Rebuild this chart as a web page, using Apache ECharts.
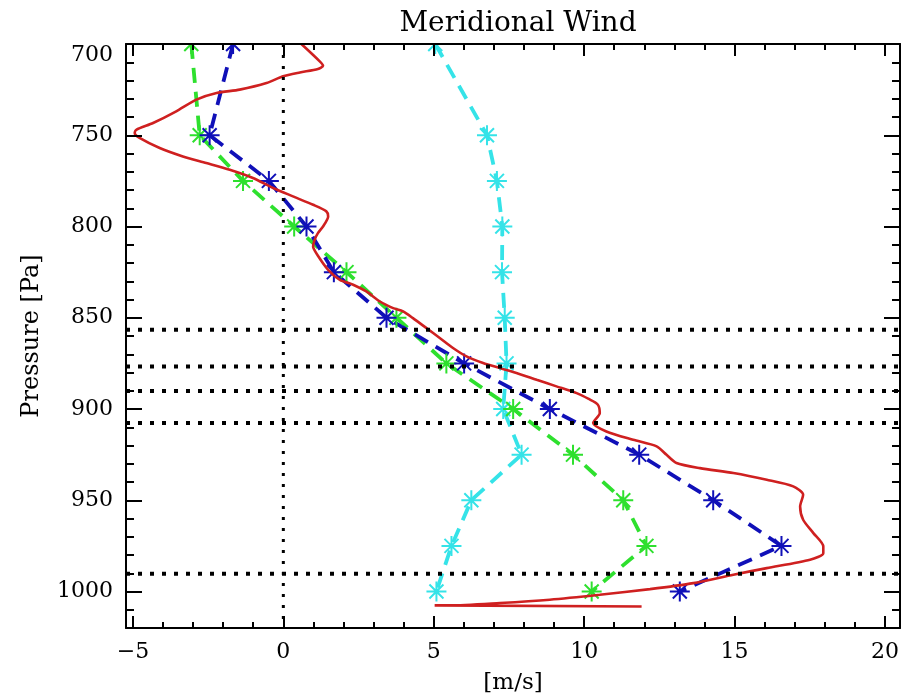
<!DOCTYPE html>
<html>
<head>
<meta charset="utf-8">
<script src="https://cdn.jsdelivr.net/npm/echarts@6/dist/echarts.min.js"></script>
<style>html,body{margin:0;padding:0;background:#fff}#c{width:912px;height:700px}</style>
</head>
<body>
<div id="c"></div>
<script>
// ---- data ----
const levelPressure = [700, 750, 775, 800, 825, 850, 875, 900, 925, 950, 975, 1000];
const blueWind  = [-1.67, -2.45, -0.48, 0.77, 1.68, 3.43, 6.01, 8.86, 11.83, 14.29, 16.56, 13.18];
const greenWind = [-3.06, -2.78, -1.34, 0.36, 2.10, 3.76, 5.42, 7.64, 9.63, 11.30, 12.07, 10.25];
const cyanWind  = [5.05, 6.77, 7.10, 7.28, 7.27, 7.36, 7.42, 7.31, 7.92, 6.25, 5.59, 5.09];

const redWind = [0.60, 1.21, 1.32, 1.15, 0.55, -0.01, -0.56, -1.45, -2.22, -2.89, -3.56, -4.33, -4.89, -4.94, -4.78,
  -4.11, -3.34, -2.56, -1.78, -1.01, -0.34, 0.32, 0.99, 1.43, 1.49, 1.32, 1.15, 1.04, 0.99, 1.15, 1.49, 1.88, 2.32,
  2.76, 3.21, 3.65, 3.98, 4.31, 4.76, 5.20, 5.64, 6.09, 6.64, 7.20, 7.75, 8.42, 9.08, 9.75, 10.15, 10.45, 10.52,
  10.30, 10.74, 11.63, 12.41, 12.74, 13.07, 13.85, 14.96, 16.07, 16.95, 17.28, 17.18, 17.28, 17.62, 17.95, 17.95,
  17.51, 16.07, 14.96, 13.63, 12.19, 10.52, 8.86, 7.20, 5.53, 5.03, 11.91];
const redPressure = [700, 709.5, 711.9, 713.7, 715.6, 717.7, 721.4, 725, 726.9, 730.5, 736.9, 743.3, 747, 748.8, 751.5,
  757, 761.6, 765.2, 768.9, 773.4, 778.9, 783.5, 788.1, 791.7, 794.5, 800, 803.6, 807.3, 811, 816, 823.7, 829.2, 831.9,
  835.6, 841.1, 844.7, 846.5, 850.2, 855.7, 861.1, 866.6, 871.2, 874.8, 877.6, 880.3, 884, 887.6, 891.3, 894.5, 897.5, 902.2,
  907.7, 912.3, 916.9, 920.5, 925.1, 929.6, 932.4, 935.1, 938.8, 942.4, 947, 953.4, 960.7, 968, 975.3, 979,
  982.6, 987.2, 990.8, 995.4, 998.7, 1001.8, 1004.5, 1006.3, 1007.6, 1007.6, 1008.2];

const dottedPressures = [856.6, 876.7, 890.2, 907.7, 990.3];
const zeroWind = 0;

const xMajorTicks = [-5, 0, 5, 10, 15, 20];
const xMinorTicks = [];
for (let v = -5; v <= 20; v++) xMinorTicks.push(v);
const yMajorTicks = [700, 750, 800, 850, 900, 950, 1000];
const yMinorTicks = [];
for (let v = 700; v <= 1020; v += 10) yMinorTicks.push(v);

// ---- layout ----
const X_MIN = -5.23, X_MAX = 20.5, Y_MIN = 700, Y_MAX = 1020;
const GRID = {left: 126, right: 12, top: 44, bottom: 72};
const SERIF = 'DejaVu Serif';
const STAR = 'path://M10 0L10 20M0 10L20 10M3 3L17 17M3 17L17 3';
const fmt = v => (v < 0 ? '\u2212' + Math.abs(v) : String(v));

function xAxisDef(pos, major, withLabel, withLine) {
  return {
    type: 'value', position: pos, min: X_MIN, max: X_MAX, z: 10,
    axisLine: {show: withLine, onZero: false, lineStyle: {color: '#000', width: 2}},
    axisTick: {show: true, inside: true, length: major ? 12 : 6, customValues: major ? xMajorTicks : xMinorTicks,
      lineStyle: {color: '#000', width: 2}},
    axisLabel: {show: withLabel, customValues: xMajorTicks, margin: 13, color: '#000',
      fontFamily: SERIF, fontSize: 22, formatter: fmt},
    splitLine: {show: false}
  };
}
function yAxisDef(pos, major, withLabel, withLine) {
  return {
    type: 'value', position: pos, min: Y_MIN, max: Y_MAX, inverse: true, z: 10,
    axisLine: {show: withLine, onZero: false, lineStyle: {color: '#000', width: 2}},
    axisTick: {show: true, inside: true, length: major ? 16 : 8, customValues: major ? yMajorTicks : yMinorTicks,
      lineStyle: {color: '#000', width: 2}},
    axisLabel: {show: withLabel, customValues: yMajorTicks, margin: 13, color: '#000',
      fontFamily: SERIF, fontSize: 22, verticalAlignMinLabel: 'top', formatter: fmt},
    splitLine: {show: false}
  };
}

const xAxes = [
  Object.assign(xAxisDef('bottom', true, true, true), {name: '[m/s]', nameLocation: 'middle', nameGap: 44,
    nameTextStyle: {fontFamily: SERIF, fontSize: 23, color: '#000'}}),
  xAxisDef('bottom', false, false, false),
  xAxisDef('top', true, false, true),
  xAxisDef('top', false, false, false)
];
const yAxes = [
  Object.assign(yAxisDef('left', true, true, true), {name: 'Pressure [Pa]', nameLocation: 'middle', nameGap: 82,
    nameTextStyle: {fontFamily: SERIF, fontSize: 24, color: '#000'}}),
  yAxisDef('left', false, false, false),
  yAxisDef('right', true, false, true),
  yAxisDef('right', false, false, false)
];

function profile(name, winds, color) {
  return {
    name: name, type: 'line', xAxisIndex: 0, yAxisIndex: 0,
    data: winds.map((w, i) => [w, levelPressure[i]]),
    symbol: STAR, symbolSize: 20,
    itemStyle: {color: 'rgba(0,0,0,0)', borderColor: color, borderWidth: 2},
    lineStyle: {color: color, width: 3.8, type: [15, 9]},
    animation: false, z: 3
  };
}

const series = [
  profile('cyan', cyanWind, '#35e3e8'),
  profile('green', greenWind, '#2ee02e'),
  profile('blue', blueWind, '#1010b8'),
  {
    name: 'red', type: 'line', data: redWind.map((w, i) => [w, redPressure[i]]), smooth: 0.25,
    symbol: 'none', lineStyle: {color: '#cf2020', width: 2.6}, animation: false, z: 4
  },
  {
    name: 'zero', type: 'line', data: [[zeroWind, Y_MIN], [zeroWind, Y_MAX]], symbol: 'none',
    lineStyle: {color: '#000', width: 3, type: [3, 8]}, animation: false, z: 5
  }
];
dottedPressures.forEach((p, i) => {
  series.push({
    name: 'lvl' + i, type: 'line', data: [[X_MIN, p], [X_MAX, p]], symbol: 'none',
    lineStyle: {color: '#000', width: 4, type: [4, 8]}, animation: false, z: 5
  });
});

const chart = echarts.init(document.getElementById('c'), null, {renderer: 'canvas'});
chart.setOption({
  backgroundColor: '#fff',
  animation: false,
  title: {text: 'Meridional Wind', left: 513, textAlign: 'center', top: 5, z: 12,
    textStyle: {fontFamily: SERIF, fontSize: 28, fontWeight: 'normal', color: '#000'}},
  grid: GRID,
  graphic: [{type: 'rect', shape: {x: 120, y: 0, width: 790, height: 43}, style: {fill: '#fff'}, z: 8, silent: true}],
  xAxis: xAxes,
  yAxis: yAxes,
  series: series
});
</script>
</body>
</html>
